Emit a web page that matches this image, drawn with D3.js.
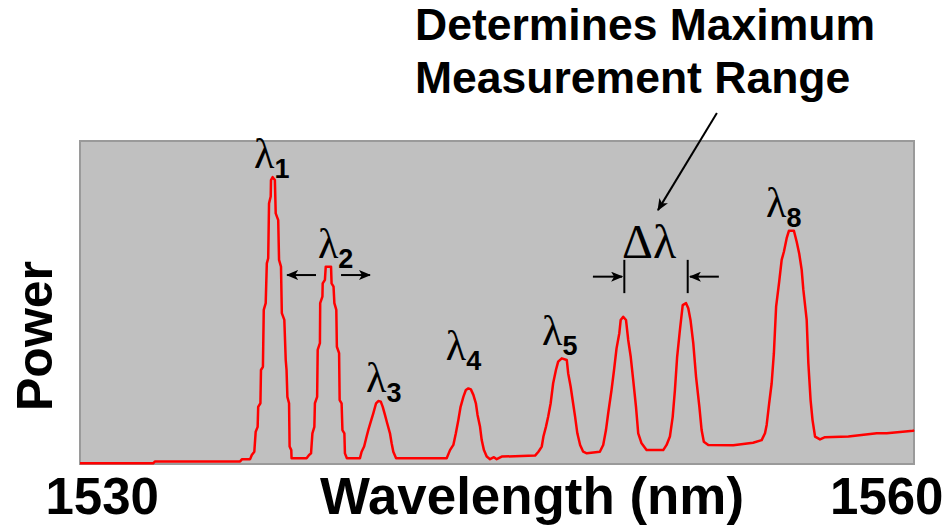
<!DOCTYPE html>
<html>
<head>
<meta charset="utf-8">
<script src="https://cdn.jsdelivr.net/npm/d3@7"></script>
<style>
  html, body { margin: 0; padding: 0; background: #fff; }
  svg { display: block; }
</style>
</head>
<body>
<svg id="chart" width="947" height="525"></svg>
<script>
// ---- data ----
const wavelength = [
  1530.00, 1532.63, 1532.70, 1535.76, 1535.83, 1536.12, 1536.18, 1536.27, 1536.32, 1536.39,
  1536.41, 1536.49, 1536.51, 1536.58, 1536.61, 1536.68, 1536.72, 1536.77, 1536.80, 1536.86,
  1536.87, 1536.93, 1537.01, 1537.04, 1537.13, 1537.16, 1537.23, 1537.26, 1537.35, 1537.40,
  1537.43, 1537.46, 1537.52, 1537.54, 1537.60, 1537.61, 1538.15, 1538.24, 1538.31, 1538.36,
  1538.43, 1538.45, 1538.53, 1538.55, 1538.63, 1538.64, 1538.72, 1538.73, 1538.81, 1538.84,
  1539.03, 1539.05, 1539.12, 1539.15, 1539.22, 1539.24, 1539.32, 1539.34, 1539.41, 1539.44,
  1539.51, 1539.53, 1539.60, 1540.07, 1540.13, 1540.22, 1540.31, 1540.37, 1540.46, 1540.55,
  1540.65, 1540.73, 1540.82, 1540.89, 1540.97, 1541.05, 1541.15, 1541.21, 1541.27, 1541.37,
  1543.19, 1543.31, 1543.43, 1543.52, 1543.61, 1543.69, 1543.79, 1543.88, 1543.97, 1544.06,
  1544.15, 1544.24, 1544.30, 1544.39, 1544.45, 1544.53, 1544.63, 1544.75, 1544.89, 1544.99,
  1545.17, 1546.37, 1546.49, 1546.61, 1546.67, 1546.76, 1546.84, 1546.93, 1547.02, 1547.12,
  1547.20, 1547.33, 1547.51, 1547.56, 1547.65, 1547.72, 1547.81, 1547.89, 1547.99, 1548.10,
  1548.23, 1548.70, 1548.82, 1548.92, 1549.00, 1549.12, 1549.21, 1549.30, 1549.40, 1549.45,
  1549.54, 1549.64, 1549.72, 1549.81, 1549.90, 1550.00, 1550.08, 1550.20, 1550.38, 1550.98,
  1551.10, 1551.22, 1551.32, 1551.40, 1551.48, 1551.58, 1551.68, 1551.80, 1551.88, 1551.96,
  1552.06, 1552.16, 1552.28, 1552.36, 1552.44, 1552.60, 1553.50, 1554.21, 1554.52, 1554.64,
  1554.70, 1554.79, 1554.88, 1554.96, 1555.04, 1555.15, 1555.24, 1555.32, 1555.42, 1555.50,
  1555.68, 1555.78, 1555.87, 1555.96, 1556.02, 1556.14, 1556.20, 1556.28, 1556.35, 1556.44,
  1556.62, 1556.80, 1557.64, 1558.66, 1559.02, 1559.97, 1560.00
];
const power = [
  0.2, 0.2, 0.8, 0.8, 1.5, 1.5, 2.8, 3.8, 10.0, 11.5,
  17.7, 18.8, 29.1, 30.1, 47.7, 49.8, 62.1, 63.7, 80.7, 82.8,
  87.9, 88.8, 87.9, 77.6, 75.5, 63.2, 61.1, 46.7, 44.6, 32.2,
  29.1, 20.8, 18.8, 5.4, 4.3, 1.8, 1.8, 2.8, 3.3, 9.5,
  11.5, 18.8, 20.8, 35.3, 37.4, 49.8, 51.8, 55.9, 57.0, 61.1,
  61.1, 55.9, 54.9, 49.8, 47.7, 36.3, 34.3, 19.8, 18.8, 10.5,
  9.5, 3.3, 1.8, 1.8, 3.8, 5.4, 8.5, 10.5, 13.1, 15.7,
  18.8, 19.5, 19.3, 17.7, 15.2, 12.6, 9.5, 6.4, 3.8, 1.8,
  1.8, 4.3, 5.9, 9.5, 13.6, 17.7, 20.8, 22.9, 23.4, 23.1,
  21.4, 18.8, 15.2, 11.5, 7.4, 4.3, 2.3, 1.5, 2.1, 1.5,
  2.3, 2.6, 3.8, 5.4, 8.5, 11.5, 14.6, 18.8, 25.0, 29.1,
  31.7, 32.7, 32.2, 28.1, 23.9, 19.8, 14.6, 9.5, 5.9, 3.8,
  3.3, 3.8, 5.9, 10.5, 15.7, 22.9, 29.1, 35.8, 40.5, 44.6,
  45.6, 44.6, 38.4, 33.2, 26.0, 17.7, 9.5, 6.4, 4.3, 4.3,
  5.9, 8.5, 14.6, 22.9, 33.2, 41.5, 49.2, 49.8, 48.2, 44.6,
  37.4, 27.0, 17.7, 10.5, 6.9, 5.9, 5.8, 6.6, 7.4, 9.5,
  12.1, 18.8, 25.0, 34.3, 48.7, 56.4, 63.2, 65.7, 69.9, 72.2,
  72.2, 68.8, 65.2, 60.1, 53.9, 44.6, 31.2, 19.8, 13.6, 8.5,
  7.6, 8.3, 8.5, 9.5, 9.5, 10.3, 10.5
];
const xTicks = [1530, 1560];
const peakSubs = ["1", "2", "3", "4", "5", "8"];
const peakLabelWl = [1536.26, 1538.56, 1540.29, 1543.16, 1546.62, 1554.68];
const peakLabelP  = [91.6, 63.8, 22.3, 32.2, 36.8, 76.6];
const xTitle = "Wavelength (nm)";
const yTitle = "Power";
const noteLines = ["Determines Maximum", "Measurement Range"];
const deltaLabel = "Δλ";

// ---- layout ----
const svg = d3.select("#chart");
const plot = { left: 80, right: 914, top: 141, bottom: 464 };
const x = d3.scaleLinear().domain([1530, 1560]).range([plot.left, plot.right]);
const y = d3.scaleLinear().domain([0, 100]).range([plot.bottom, plot.top]);
const sans = "'Liberation Sans', Arial, Helvetica, sans-serif";
const serif = "'Liberation Serif', 'Times New Roman', serif";

// arrow marker
const defs = svg.append("defs");
defs.append("marker")
  .attr("id", "ah").attr("viewBox", "0 0 12 10")
  .attr("refX", 11).attr("refY", 5)
  .attr("markerWidth", 12).attr("markerHeight", 10)
  .attr("markerUnits", "userSpaceOnUse")
  .attr("orient", "auto")
  .append("path").attr("d", "M0,0 L12,5 L0,10 L3,5 Z").attr("fill", "#000");

// plot background
svg.append("rect")
  .attr("x", x(1530)).attr("y", y(100))
  .attr("width", x(1560) - x(1530)).attr("height", y(0) - y(100))
  .attr("fill", "#c0c0c0").attr("stroke", "#9a9a9a").attr("stroke-width", 2);

// spectrum line
const pts = wavelength.map((w, i) => [w, power[i]]);
svg.append("path")
  .datum(pts)
  .attr("fill", "none").attr("stroke", "#ff0000").attr("stroke-width", 2.5)
  .attr("stroke-linejoin", "round")
  .attr("d", d3.line().x(d => x(d[0])).y(d => y(d[1])));

// x axis
const xAxis = svg.append("g")
  .attr("transform", `translate(0,${plot.bottom})`)
  .call(d3.axisBottom(x).tickValues(xTicks).tickSize(0).tickFormat(d3.format("d")));
xAxis.select(".domain").remove();
xAxis.selectAll("text")
  .attr("y", 50).attr("dy", 0)
  .attr("font-family", sans).attr("font-weight", "bold").attr("font-size", 51)
  .attr("fill", "#000")
  .attr("text-anchor", (d, i) => i === 0 ? "start" : "end")
  .attr("dx", (d, i) => i === 0 ? -35 : 29);

svg.append("text")
  .attr("x", 320).attr("y", 514)
  .attr("font-family", sans).attr("font-weight", "bold").attr("font-size", 51)
  .attr("textLength", 424).attr("lengthAdjust", "spacingAndGlyphs")
  .text(xTitle);

svg.append("text")
  .attr("transform", "translate(52,411) rotate(-90)")
  .attr("font-family", sans).attr("font-weight", "bold").attr("font-size", 50)
  .text(yTitle);

// peak labels
peakSubs.forEach((s, i) => {
  const t = svg.append("text")
    .attr("x", x(peakLabelWl[i])).attr("y", y(peakLabelP[i]));
  t.append("tspan").attr("font-family", serif).attr("font-size", 42).text("λ");
  t.append("tspan").attr("font-family", sans).attr("font-weight", "bold")
    .attr("font-size", 27).attr("dy", 10).text(s);
});

// arrows helper
function arrow(w1, p1, w2, p2) {
  svg.append("line")
    .attr("x1", x(w1)).attr("y1", y(p1)).attr("x2", x(w2)).attr("y2", y(p2))
    .attr("stroke", "#000").attr("stroke-width", 2)
    .attr("marker-end", "url(#ah)");
}
// λ2 spacing arrows
arrow(1538.49, 58.5, 1537.45, 58.5);
arrow(1539.39, 58.5, 1540.43, 58.5);
// Δλ bars and arrows
[1549.58, 1551.86].forEach(w => {
  svg.append("line")
    .attr("x1", x(w)).attr("x2", x(w)).attr("y1", y(63.2)).attr("y2", y(52.9))
    .attr("stroke", "#000").attr("stroke-width", 2);
});
arrow(1548.45, 58.0, 1549.50, 58.0);
arrow(1552.98, 58.0, 1551.94, 58.0);
svg.append("text")
  .attr("x", x(1549.50)).attr("y", y(63.8))
  .attr("font-family", serif).attr("font-size", 48)
  .text(deltaLabel);

// long annotation arrow
arrow(1552.91, 108.7, 1550.79, 78.6);

// note text
noteLines.forEach((l, i) => {
  svg.append("text")
    .attr("x", 415).attr("y", 40 + i * 53)
    .attr("font-family", sans).attr("font-weight", "bold").attr("font-size", 44.5)
    .text(l);
});
</script>
</body>
</html>
